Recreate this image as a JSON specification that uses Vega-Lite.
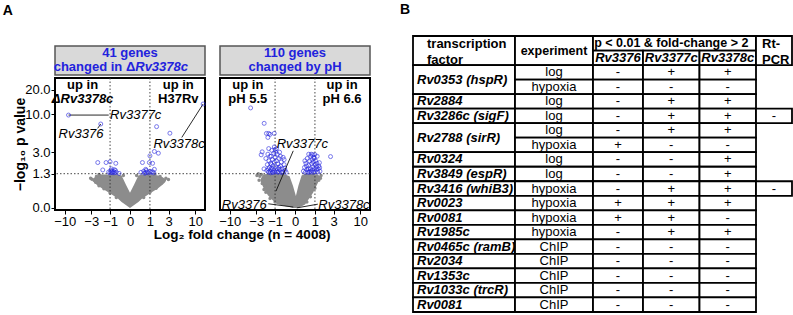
{
  "$schema": "https://vega.github.io/schema/vega-lite/v6.json",
  "padding": {"left": 2, "top": 3, "right": 0, "bottom": 0},
  "background": "white",
  "config": {
    "font": "Liberation Sans",
    "view": {"stroke": null},
    "title": {"color": "#000", "font": "Liberation Sans"},
    "axis": {"labelFont": "Liberation Sans", "titleFont": "Liberation Sans", "labelOverlap": false, "labelFlush": false, "tickCount": 10}
  },
  "datasets": {
    "blue": [
      {"p":"L","x":-8.5,"y":9.7},{"p":"L","x":-1.81,"y":7.43},{"p":"L","x":1.55,"y":6.86},{"p":"L","x":3.18,"y":5.6},
      {"p":"L","x":13.9,"y":13.4},{"p":"L","x":1.0,"y":2.64},{"p":"L","x":1.35,"y":3.08},{"p":"L","x":1.72,"y":2.9},
      {"p":"L","x":-2.14,"y":2.06},{"p":"L","x":-1.31,"y":2.06},{"p":"L","x":-1.0,"y":2.12},{"p":"L","x":-0.63,"y":2.0},
      {"p":"L","x":-1.61,"y":1.53},{"p":"L","x":0.53,"y":2.06},{"p":"L","x":0.96,"y":2.06},{"p":"L","x":1.2,"y":2.0},
      {"p":"L","x":0.72,"y":1.57},{"p":"L","x":1.35,"y":1.57},
      {"p":"L","x":-1.1,"y":1.4},{"p":"L","x":-1.0,"y":1.35},{"p":"L","x":-0.95,"y":1.5},{"p":"L","x":-0.9,"y":1.38},
      {"p":"L","x":-0.85,"y":1.45},{"p":"L","x":-0.8,"y":1.35},{"p":"L","x":-0.75,"y":1.42},{"p":"L","x":-0.7,"y":1.36},
      {"p":"L","x":-0.65,"y":1.5},{"p":"L","x":-0.6,"y":1.38},{"p":"L","x":-0.45,"y":1.32},{"p":"L","x":-0.9,"y":1.6},
      {"p":"L","x":-0.72,"y":1.55},
      {"p":"L","x":0.45,"y":1.38},{"p":"L","x":0.6,"y":1.45},{"p":"L","x":0.7,"y":1.35},{"p":"L","x":0.75,"y":1.5},
      {"p":"L","x":0.8,"y":1.4},{"p":"L","x":0.9,"y":1.35},{"p":"L","x":1.0,"y":1.45},{"p":"L","x":1.1,"y":1.38},
      {"p":"L","x":1.2,"y":1.42},{"p":"L","x":0.65,"y":1.33},{"p":"L","x":1.3,"y":1.35},
      {"p":"R","x":-3.95,"y":11.96},{"p":"R","x":-1.98,"y":7.58},{"p":"R","x":-1.74,"y":5.56},{"p":"R","x":-1.52,"y":5.56},
      {"p":"R","x":-1.4,"y":5.4},{"p":"R","x":-1.06,"y":5.56},{"p":"R","x":-1.6,"y":4.9},{"p":"R","x":-2.21,"y":3.04},
      {"p":"R","x":-2.33,"y":2.74},{"p":"R","x":-1.52,"y":3.4},{"p":"R","x":2.55,"y":2.57},{"p":"R","x":0.75,"y":2.8},
      {"p":"R","x":1.0,"y":2.75},{"p":"R","x":1.37,"y":1.68},
      {"p":"R","x":-1.7,"y":1.5},{"p":"R","x":-1.65,"y":1.9},{"p":"R","x":-1.55,"y":1.4},{"p":"R","x":-1.5,"y":2.2},
      {"p":"R","x":-1.45,"y":1.7},{"p":"R","x":-1.4,"y":1.45},{"p":"R","x":-1.35,"y":2.0},{"p":"R","x":-1.3,"y":2.6},
      {"p":"R","x":-1.3,"y":1.55},{"p":"R","x":-1.25,"y":3.2},{"p":"R","x":-1.2,"y":1.4},{"p":"R","x":-1.2,"y":2.3},
      {"p":"R","x":-1.15,"y":1.8},{"p":"R","x":-1.1,"y":2.9},{"p":"R","x":-1.1,"y":1.5},{"p":"R","x":-1.05,"y":2.1},
      {"p":"R","x":-1.0,"y":3.3},{"p":"R","x":-1.0,"y":1.4},{"p":"R","x":-1.0,"y":2.5},{"p":"R","x":-0.95,"y":1.75},
      {"p":"R","x":-0.9,"y":2.2},{"p":"R","x":-0.9,"y":1.45},{"p":"R","x":-0.85,"y":2.8},{"p":"R","x":-0.85,"y":1.6},
      {"p":"R","x":-0.8,"y":1.95},{"p":"R","x":-0.8,"y":1.38},{"p":"R","x":-0.75,"y":2.4},{"p":"R","x":-0.7,"y":1.55},
      {"p":"R","x":-0.7,"y":3.0},{"p":"R","x":-0.65,"y":1.8},{"p":"R","x":-0.6,"y":1.4},{"p":"R","x":-0.6,"y":2.1},
      {"p":"R","x":-0.55,"y":1.6},{"p":"R","x":-0.5,"y":2.5},{"p":"R","x":-0.5,"y":1.42},{"p":"R","x":-0.45,"y":1.9},
      {"p":"R","x":-0.4,"y":1.5},{"p":"R","x":-0.35,"y":1.38},{"p":"R","x":-1.15,"y":1.38},{"p":"R","x":-1.4,"y":2.6},
      {"p":"R","x":-0.95,"y":3.0},{"p":"R","x":-1.25,"y":1.65},{"p":"R","x":-0.75,"y":1.7},{"p":"R","x":-0.65,"y":2.6},
      {"p":"R","x":-1.55,"y":1.6},{"p":"R","x":-1.05,"y":3.6},{"p":"R","x":-0.9,"y":3.4},{"p":"R","x":-1.35,"y":1.35},
      {"p":"R","x":-0.55,"y":1.35},{"p":"R","x":-0.45,"y":2.3},{"p":"R","x":-1.8,"y":2.4},{"p":"R","x":-2.0,"y":1.6},
      {"p":"R","x":-0.42,"y":1.65},{"p":"R","x":-1.6,"y":2.8},{"p":"R","x":-0.78,"y":1.42},{"p":"R","x":-1.28,"y":1.9},
      {"p":"R","x":0.33,"y":1.45},{"p":"R","x":0.38,"y":1.7},{"p":"R","x":0.42,"y":1.38},{"p":"R","x":0.45,"y":2.0},
      {"p":"R","x":0.5,"y":1.55},{"p":"R","x":0.52,"y":2.4},{"p":"R","x":0.55,"y":1.4},{"p":"R","x":0.6,"y":1.85},
      {"p":"R","x":0.62,"y":1.38},{"p":"R","x":0.65,"y":2.2},{"p":"R","x":0.7,"y":1.6},{"p":"R","x":0.72,"y":2.6},
      {"p":"R","x":0.75,"y":1.4},{"p":"R","x":0.78,"y":1.95},{"p":"R","x":0.8,"y":2.3},{"p":"R","x":0.82,"y":1.5},
      {"p":"R","x":0.85,"y":1.75},{"p":"R","x":0.88,"y":2.1},{"p":"R","x":0.9,"y":1.38},{"p":"R","x":0.92,"y":2.5},
      {"p":"R","x":0.95,"y":1.6},{"p":"R","x":1.0,"y":1.9},{"p":"R","x":1.0,"y":1.42},{"p":"R","x":1.05,"y":2.2},
      {"p":"R","x":1.1,"y":1.55},{"p":"R","x":1.12,"y":1.75},{"p":"R","x":1.15,"y":2.0},{"p":"R","x":1.2,"y":1.4},
      {"p":"R","x":1.25,"y":1.6},{"p":"R","x":1.3,"y":1.8},{"p":"R","x":0.6,"y":2.8},{"p":"R","x":0.68,"y":1.45},
      {"p":"R","x":0.85,"y":2.75},{"p":"R","x":1.4,"y":1.45},{"p":"R","x":0.48,"y":1.8},{"p":"R","x":0.4,"y":2.2},
      {"p":"R","x":1.17,"y":2.6},{"p":"R","x":0.58,"y":1.6},{"p":"R","x":0.95,"y":2.4},{"p":"R","x":1.35,"y":2.05}
    ],
    "gray": [
      {"p":"L","x":-2.9,"y":1.0},{"p":"L","x":-2.6,"y":0.95},{"p":"L","x":-2.4,"y":0.85},{"p":"L","x":-2.0,"y":0.7},
      {"p":"L","x":-1.5,"y":0.58},{"p":"L","x":-1.0,"y":0.42},{"p":"L","x":-0.6,"y":0.28},{"p":"L","x":-2.3,"y":1.15},
      {"p":"L","x":-1.9,"y":1.2},{"p":"L","x":-0.25,"y":1.2},{"p":"L","x":0.25,"y":1.2},{"p":"L","x":2.96,"y":0.99},
      {"p":"L","x":2.4,"y":0.95},{"p":"L","x":2.0,"y":0.8},{"p":"L","x":1.5,"y":0.6},{"p":"L","x":1.0,"y":0.45},
      {"p":"L","x":0.6,"y":0.28},{"p":"L","x":2.6,"y":1.05},{"p":"L","x":1.9,"y":1.15},{"p":"L","x":-3.1,"y":1.05},
      {"p":"L","x":-2.0,"y":1.25},{"p":"L","x":1.4,"y":1.27},
      {"p":"R","x":-2.6,"y":0.95},{"p":"R","x":-2.5,"y":1.15},{"p":"R","x":-2.3,"y":1.25},{"p":"R","x":-2.2,"y":0.8},
      {"p":"R","x":-2.0,"y":0.55},{"p":"R","x":-1.8,"y":0.45},{"p":"R","x":-1.4,"y":0.25},{"p":"R","x":-1.0,"y":0.15},
      {"p":"R","x":-2.1,"y":1.0},{"p":"R","x":-1.9,"y":0.7},{"p":"R","x":1.5,"y":1.2},{"p":"R","x":1.3,"y":0.95},
      {"p":"R","x":1.0,"y":0.6},{"p":"R","x":0.7,"y":0.3},{"p":"R","x":0.5,"y":0.15},{"p":"R","x":1.45,"y":1.05},
      {"p":"R","x":-2.9,"y":1.2},{"p":"R","x":-2.7,"y":1.3}
    ],
    "cloud": [
      {"p":"L","x":-2.7,"y":1.05,"y2":0.88},{"p":"L","x":-2.2,"y":1.2,"y2":0.72},{"p":"L","x":-1.7,"y":1.25,"y2":0.6},
      {"p":"L","x":-1.2,"y":1.25,"y2":0.47},{"p":"L","x":-0.88,"y":1.28,"y2":0.37},{"p":"L","x":-0.5,"y":1.25,"y2":0.24},
      {"p":"L","x":-0.33,"y":1.2,"y2":0.15},{"p":"L","x":-0.15,"y":0.75,"y2":0.07},{"p":"L","x":0,"y":0.43,"y2":0},
      {"p":"L","x":0.15,"y":0.75,"y2":0.07},{"p":"L","x":0.33,"y":1.2,"y2":0.15},{"p":"L","x":0.5,"y":1.25,"y2":0.24},
      {"p":"L","x":0.88,"y":1.28,"y2":0.37},{"p":"L","x":1.2,"y":1.25,"y2":0.47},{"p":"L","x":1.7,"y":1.2,"y2":0.6},
      {"p":"L","x":2.2,"y":1.1,"y2":0.75},{"p":"L","x":2.5,"y":1.0,"y2":0.85},
      {"p":"R","x":-2.4,"y":1.0,"y2":0.9},{"p":"R","x":-2.1,"y":1.25,"y2":0.65},{"p":"R","x":-1.6,"y":1.3,"y2":0.35},
      {"p":"R","x":-1.2,"y":1.3,"y2":0.2},{"p":"R","x":-0.9,"y":1.3,"y2":0.1},{"p":"R","x":-0.5,"y":1.3,"y2":0.05},
      {"p":"R","x":-0.2,"y":1.15,"y2":0.02},{"p":"R","x":-0.07,"y":0.7,"y2":0},{"p":"R","x":0.03,"y":0.32,"y2":0},
      {"p":"R","x":0.12,"y":0.7,"y2":0.01},{"p":"R","x":0.25,"y":1.2,"y2":0.04},{"p":"R","x":0.41,"y":1.3,"y2":0.08},
      {"p":"R","x":0.87,"y":1.3,"y2":0.43},{"p":"R","x":1.2,"y":1.25,"y2":0.8},{"p":"R","x":1.41,"y":1.15,"y2":1.05}
    ],
    "lead": [
      {"p":"L","g":"Rv3377c","x":-8.5,"y":9.7,"x2":-1.1,"y2":9.7},
      {"p":"L","g":"Rv3376","x":-1.81,"y":7.43,"x2":-2.15,"y2":6.51},
      {"p":"L","g":"Rv3378c","x":13.9,"y":13.4,"x2":5.56,"y2":4.9},
      {"p":"R","g":"Rv3377c","x":-0.935,"y":0.49,"x2":-0.06,"y2":3.15},
      {"p":"R","g":"Rv3376","x":-0.06,"y":0.02,"x2":-1.56,"y2":0.1},
      {"p":"R","g":"Rv3378c","x":0.06,"y":0.0,"x2":1.22,"y2":0.09}
    ],
    "lab": [
      {"p":"L","g":"Rv3377c","x":-1.0,"y":9.7},
      {"p":"L","g":"Rv3376","x":-1.55,"y":5.43},
      {"p":"L","g":"Rv3378c","x":1.27,"y":3.94},
      {"p":"R","g":"Rv3377c","x":-0.89,"y":3.94},
      {"p":"R","g":"Rv3376","x":-1.72,"y":0.08},
      {"p":"R","g":"Rv3378c","x":1.26,"y":0.08}
    ],
    "note": [
      {"p":"L","t":"up in","x":-4.55,"y":23.2,"k":"b"},
      {"p":"L","t":"ΔRv3378c","x":-4.55,"y":15.6,"k":"bi"},
      {"p":"L","t":"up in","x":4.74,"y":23.2,"k":"b"},
      {"p":"L","t":"H37Rv","x":4.74,"y":15.6,"k":"b"},
      {"p":"R","t":"up in","x":-4.5,"y":23.2,"k":"b"},
      {"p":"R","t":"pH 5.5","x":-4.5,"y":15.6,"k":"b"},
      {"p":"R","t":"up in","x":4.48,"y":23.2,"k":"b"},
      {"p":"R","t":"pH 6.6","x":4.48,"y":15.6,"k":"b"}
    ],
    "thr": [{"x":-1},{"x":1}],
    "cells": [
      {"c":0,"c2":1,"r":0,"r2":2,"t":"transcription\nfactor","k":"h1"},
      {"c":1,"c2":2,"r":0,"r2":2,"t":"experiment","k":"h"},
      {"c":2,"c2":5,"r":0,"r2":1,"t":"p < 0.01 & fold-change > 2","k":"h"},
      {"c":2,"c2":3,"r":1,"r2":2,"t":"Rv3376","k":"g"},
      {"c":3,"c2":4,"r":1,"r2":2,"t":"Rv3377c","k":"g"},
      {"c":4,"c2":5,"r":1,"r2":2,"t":"Rv3378c","k":"g"},
      {"c":5,"c2":6,"r":0,"r2":2,"t":"Rt-\nPCR","k":"h2"},

      {"c":0,"c2":1,"r":2,"r2":4,"t":"Rv0353 (hspR)","k":"tf"},
      {"c":1,"c2":2,"r":2,"r2":3,"t":"log","k":"v"},
      {"c":2,"c2":3,"r":2,"r2":3,"t":"-","k":"v"},{"c":3,"c2":4,"r":2,"r2":3,"t":"+","k":"v"},{"c":4,"c2":5,"r":2,"r2":3,"t":"+","k":"v"},
      {"c":1,"c2":2,"r":3,"r2":4,"t":"hypoxia","k":"v"},
      {"c":2,"c2":3,"r":3,"r2":4,"t":"-","k":"v"},{"c":3,"c2":4,"r":3,"r2":4,"t":"-","k":"v"},{"c":4,"c2":5,"r":3,"r2":4,"t":"-","k":"v"},

      {"c":0,"c2":1,"r":4,"r2":5,"t":"Rv2884","k":"tf"},
      {"c":1,"c2":2,"r":4,"r2":5,"t":"log","k":"v"},
      {"c":2,"c2":3,"r":4,"r2":5,"t":"-","k":"v"},{"c":3,"c2":4,"r":4,"r2":5,"t":"+","k":"v"},{"c":4,"c2":5,"r":4,"r2":5,"t":"+","k":"v"},

      {"c":0,"c2":1,"r":5,"r2":6,"t":"Rv3286c (sigF)","k":"tf"},
      {"c":1,"c2":2,"r":5,"r2":6,"t":"log","k":"v"},
      {"c":2,"c2":3,"r":5,"r2":6,"t":"-","k":"v"},{"c":3,"c2":4,"r":5,"r2":6,"t":"+","k":"v"},{"c":4,"c2":5,"r":5,"r2":6,"t":"+","k":"v"},
      {"c":5,"c2":6,"r":5,"r2":6,"t":"-","k":"v"},

      {"c":0,"c2":1,"r":6,"r2":8,"t":"Rv2788 (sirR)","k":"tf"},
      {"c":1,"c2":2,"r":6,"r2":7,"t":"log","k":"v"},
      {"c":2,"c2":3,"r":6,"r2":7,"t":"-","k":"v"},{"c":3,"c2":4,"r":6,"r2":7,"t":"+","k":"v"},{"c":4,"c2":5,"r":6,"r2":7,"t":"+","k":"v"},
      {"c":1,"c2":2,"r":7,"r2":8,"t":"hypoxia","k":"v"},
      {"c":2,"c2":3,"r":7,"r2":8,"t":"+","k":"v"},{"c":3,"c2":4,"r":7,"r2":8,"t":"-","k":"v"},{"c":4,"c2":5,"r":7,"r2":8,"t":"-","k":"v"},

      {"c":0,"c2":1,"r":8,"r2":9,"t":"Rv0324","k":"tf"},
      {"c":1,"c2":2,"r":8,"r2":9,"t":"log","k":"v"},
      {"c":2,"c2":3,"r":8,"r2":9,"t":"-","k":"v"},{"c":3,"c2":4,"r":8,"r2":9,"t":"-","k":"v"},{"c":4,"c2":5,"r":8,"r2":9,"t":"+","k":"v"},

      {"c":0,"c2":1,"r":9,"r2":10,"t":"Rv3849 (espR)","k":"tf"},
      {"c":1,"c2":2,"r":9,"r2":10,"t":"log","k":"v"},
      {"c":2,"c2":3,"r":9,"r2":10,"t":"-","k":"v"},{"c":3,"c2":4,"r":9,"r2":10,"t":"-","k":"v"},{"c":4,"c2":5,"r":9,"r2":10,"t":"+","k":"v"},

      {"c":0,"c2":1,"r":10,"r2":11,"t":"Rv3416 (whiB3)","k":"tf"},
      {"c":1,"c2":2,"r":10,"r2":11,"t":"hypoxia","k":"v"},
      {"c":2,"c2":3,"r":10,"r2":11,"t":"-","k":"v"},{"c":3,"c2":4,"r":10,"r2":11,"t":"+","k":"v"},{"c":4,"c2":5,"r":10,"r2":11,"t":"+","k":"v"},
      {"c":5,"c2":6,"r":10,"r2":11,"t":"-","k":"v"},

      {"c":0,"c2":1,"r":11,"r2":12,"t":"Rv0023","k":"tf"},
      {"c":1,"c2":2,"r":11,"r2":12,"t":"hypoxia","k":"v"},
      {"c":2,"c2":3,"r":11,"r2":12,"t":"+","k":"v"},{"c":3,"c2":4,"r":11,"r2":12,"t":"+","k":"v"},{"c":4,"c2":5,"r":11,"r2":12,"t":"+","k":"v"},

      {"c":0,"c2":1,"r":12,"r2":13,"t":"Rv0081","k":"tf"},
      {"c":1,"c2":2,"r":12,"r2":13,"t":"hypoxia","k":"v"},
      {"c":2,"c2":3,"r":12,"r2":13,"t":"+","k":"v"},{"c":3,"c2":4,"r":12,"r2":13,"t":"+","k":"v"},{"c":4,"c2":5,"r":12,"r2":13,"t":"-","k":"v"},

      {"c":0,"c2":1,"r":13,"r2":14,"t":"Rv1985c","k":"tf"},
      {"c":1,"c2":2,"r":13,"r2":14,"t":"hypoxia","k":"v"},
      {"c":2,"c2":3,"r":13,"r2":14,"t":"-","k":"v"},{"c":3,"c2":4,"r":13,"r2":14,"t":"+","k":"v"},{"c":4,"c2":5,"r":13,"r2":14,"t":"+","k":"v"},

      {"c":0,"c2":1,"r":14,"r2":15,"t":"Rv0465c (ramB)","k":"tf"},
      {"c":1,"c2":2,"r":14,"r2":15,"t":"ChIP","k":"v"},
      {"c":2,"c2":3,"r":14,"r2":15,"t":"-","k":"v"},{"c":3,"c2":4,"r":14,"r2":15,"t":"-","k":"v"},{"c":4,"c2":5,"r":14,"r2":15,"t":"-","k":"v"},

      {"c":0,"c2":1,"r":15,"r2":16,"t":"Rv2034","k":"tf"},
      {"c":1,"c2":2,"r":15,"r2":16,"t":"ChIP","k":"v"},
      {"c":2,"c2":3,"r":15,"r2":16,"t":"-","k":"v"},{"c":3,"c2":4,"r":15,"r2":16,"t":"-","k":"v"},{"c":4,"c2":5,"r":15,"r2":16,"t":"-","k":"v"},

      {"c":0,"c2":1,"r":16,"r2":17,"t":"Rv1353c","k":"tf"},
      {"c":1,"c2":2,"r":16,"r2":17,"t":"ChIP","k":"v"},
      {"c":2,"c2":3,"r":16,"r2":17,"t":"-","k":"v"},{"c":3,"c2":4,"r":16,"r2":17,"t":"-","k":"v"},{"c":4,"c2":5,"r":16,"r2":17,"t":"-","k":"v"},

      {"c":0,"c2":1,"r":17,"r2":18,"t":"Rv1033c (trcR)","k":"tf"},
      {"c":1,"c2":2,"r":17,"r2":18,"t":"ChIP","k":"v"},
      {"c":2,"c2":3,"r":17,"r2":18,"t":"-","k":"v"},{"c":3,"c2":4,"r":17,"r2":18,"t":"-","k":"v"},{"c":4,"c2":5,"r":17,"r2":18,"t":"-","k":"v"},

      {"c":0,"c2":1,"r":18,"r2":19,"t":"Rv0081","k":"tf"},
      {"c":1,"c2":2,"r":18,"r2":19,"t":"ChIP","k":"v"},
      {"c":2,"c2":3,"r":18,"r2":19,"t":"-","k":"v"},{"c":3,"c2":4,"r":18,"r2":19,"t":"-","k":"v"},{"c":4,"c2":5,"r":18,"r2":19,"t":"-","k":"v"}
    ]
  },
  "hconcat": [
    {
      "title": {"text": "A", "anchor": "start", "fontSize": 14, "fontWeight": "bold", "offset": 18, "dx": -10},
      "spacing": 8,
      "vconcat": [
        {"width": 10, "height": 1, "data": {"values": [{}]}, "mark": {"type": "rule", "opacity": 0}, "encoding": {}},
        {
          "title": {"text": "Log₂ fold change (n = 4008)", "orient": "bottom", "anchor": "middle", "fontSize": 13.5, "fontWeight": "bold", "offset": -1, "dx": 50},
          "spacing": 9,
          "hconcat": [
            {
              "spacing": 0,
              "vconcat": [
                {
                  "width": 150, "height": 29,
                  "view": {"fill": "#d9d9d9", "stroke": "#555555", "strokeWidth": 1.5},
                  "data": {"values": [{}]},
                  "layer": [
                    {"mark": {"type": "text", "fontWeight": "bold", "fontSize": 13, "color": "#2222dd"},
                     "encoding": {"x": {"datum": 0.5, "type": "quantitative", "scale": {"domain": [0, 1]}, "axis": null},
                                  "y": {"datum": 0.75, "type": "quantitative", "scale": {"domain": [0, 1]}, "axis": null},
                                  "text": {"value": "41 genes"}}},
                    {"mark": {"type": "text", "fontWeight": "bold", "fontSize": 13, "color": "#2222dd", "align": "right"},
                     "encoding": {"x": {"datum": 0.535, "type": "quantitative", "scale": {"domain": [0, 1]}, "axis": null},
                                  "y": {"datum": 0.29, "type": "quantitative", "scale": {"domain": [0, 1]}, "axis": null},
                                  "text": {"value": "changed in Δ"}}},
                    {"mark": {"type": "text", "fontWeight": "bold", "fontStyle": "italic", "fontSize": 13, "color": "#2222dd", "align": "left"},
                     "encoding": {"x": {"datum": 0.535, "type": "quantitative", "scale": {"domain": [0, 1]}, "axis": null},
                                  "y": {"datum": 0.29, "type": "quantitative", "scale": {"domain": [0, 1]}, "axis": null},
                                  "text": {"value": "Rv3378c"}}}
                  ]
                },
                {
                  "width": 150, "height": 132,
                  "view": {"stroke": "black", "strokeWidth": 2},
                  "layer": [
                    {"data": {"name": "cloud"}, "transform": [{"filter": "datum.p == 'L'"}],
                     "mark": {"type": "area", "color": "#8c8c8c"},
                     "encoding": {
                       "x": {"field": "x", "type": "quantitative", "scale": {"type": "symlog", "constant": 0.85, "domain": [-15, 15], "nice": false, "zero": false},
                             "axis": {"values": [-10, -3, -1, 0, 1, 3, 10], "tickCount": 10, "format": "d", "title": null, "domain": false, "grid": false, "tickSize": 4, "tickColor": "#000", "labelColor": "#000", "labelFontSize": 13, "labelPadding": 1, "labelFlush": false, "labelOverlap": false}},
                       "y": {"field": "y", "type": "quantitative", "scale": {"type": "symlog", "constant": 0.85, "domain": [-0.05, 28], "nice": false, "zero": false},
                             "axis": {"values": [0, 1.3, 3, 10, 20], "tickCount": 10, "format": ".1f", "title": "−log₁₀ p value", "titleFontSize": 14, "titleFontWeight": "bold", "titleColor": "#000", "titlePadding": -3, "domain": false, "grid": false, "tickSize": 4, "tickColor": "#000", "labelColor": "#000", "labelFontSize": 13, "labelPadding": 1, "labelFlush": false, "labelOverlap": false}},
                       "y2": {"field": "y2"}
                     }},
                    {"data": {"name": "gray"}, "transform": [{"filter": "datum.p == 'L'"}],
                     "mark": {"type": "circle", "color": "#8c8c8c", "size": 12, "opacity": 1},
                     "encoding": {
                       "x": {"field": "x", "type": "quantitative", "scale": {"type": "symlog", "constant": 0.85, "domain": [-15, 15], "nice": false, "zero": false}},
                       "y": {"field": "y", "type": "quantitative", "scale": {"type": "symlog", "constant": 0.85, "domain": [-0.05, 28], "nice": false, "zero": false}}
                     }},
                    {"data": {"values": [{}]},
                     "mark": {"type": "rule", "strokeDash": [1.5, 2], "color": "#333", "strokeWidth": 0.9},
                     "encoding": {"y": {"datum": 1.3, "type": "quantitative", "scale": {"type": "symlog", "constant": 0.85, "domain": [-0.05, 28], "nice": false, "zero": false}}}},
                    {"data": {"name": "thr"},
                     "mark": {"type": "rule", "strokeDash": [1.5, 2], "color": "#333", "strokeWidth": 0.9},
                     "encoding": {"x": {"field": "x", "type": "quantitative", "scale": {"type": "symlog", "constant": 0.85, "domain": [-15, 15], "nice": false, "zero": false}}}},
                    {"data": {"name": "lead"}, "transform": [{"filter": "datum.p == 'L'"}],
                     "mark": {"type": "rule", "color": "#111", "strokeWidth": 0.9},
                     "encoding": {
                       "x": {"field": "x", "type": "quantitative", "scale": {"type": "symlog", "constant": 0.85, "domain": [-15, 15], "nice": false, "zero": false}},
                       "y": {"field": "y", "type": "quantitative", "scale": {"type": "symlog", "constant": 0.85, "domain": [-0.05, 28], "nice": false, "zero": false}},
                       "x2": {"field": "x2"}, "y2": {"field": "y2"}
                     }},
                    {"data": {"name": "blue"}, "transform": [{"filter": "datum.p == 'L'"}],
                     "mark": {"type": "point", "shape": "circle", "filled": false, "color": "#2a2ae0", "size": 16, "strokeWidth": 0.9},
                     "encoding": {
                       "x": {"field": "x", "type": "quantitative", "scale": {"type": "symlog", "constant": 0.85, "domain": [-15, 15], "nice": false, "zero": false}},
                       "y": {"field": "y", "type": "quantitative", "scale": {"type": "symlog", "constant": 0.85, "domain": [-0.05, 28], "nice": false, "zero": false}}
                     }},
                    {"data": {"name": "lab"}, "transform": [{"filter": "datum.p == 'L' && datum.g != 'Rv3376'"}],
                     "mark": {"type": "text", "align": "left", "baseline": "middle", "fontStyle": "italic", "fontSize": 13, "color": "#000"},
                     "encoding": {
                       "x": {"field": "x", "type": "quantitative", "scale": {"type": "symlog", "constant": 0.85, "domain": [-15, 15], "nice": false, "zero": false}},
                       "y": {"field": "y", "type": "quantitative", "scale": {"type": "symlog", "constant": 0.85, "domain": [-0.05, 28], "nice": false, "zero": false}},
                       "text": {"field": "g"}
                     }},
                    {"data": {"name": "lab"}, "transform": [{"filter": "datum.p == 'L' && datum.g == 'Rv3376'"}],
                     "mark": {"type": "text", "align": "right", "baseline": "middle", "fontStyle": "italic", "fontSize": 13, "color": "#000"},
                     "encoding": {
                       "x": {"field": "x", "type": "quantitative", "scale": {"type": "symlog", "constant": 0.85, "domain": [-15, 15], "nice": false, "zero": false}},
                       "y": {"field": "y", "type": "quantitative", "scale": {"type": "symlog", "constant": 0.85, "domain": [-0.05, 28], "nice": false, "zero": false}},
                       "text": {"field": "g"}
                     }},
                    {"data": {"name": "note"}, "transform": [{"filter": "datum.p == 'L' && datum.k == 'b'"}],
                     "mark": {"type": "text", "align": "center", "baseline": "middle", "fontWeight": "bold", "fontSize": 13, "color": "#000"},
                     "encoding": {
                       "x": {"field": "x", "type": "quantitative", "scale": {"type": "symlog", "constant": 0.85, "domain": [-15, 15], "nice": false, "zero": false}},
                       "y": {"field": "y", "type": "quantitative", "scale": {"type": "symlog", "constant": 0.85, "domain": [-0.05, 28], "nice": false, "zero": false}},
                       "text": {"field": "t"}
                     }},
                    {"data": {"name": "note"}, "transform": [{"filter": "datum.p == 'L' && datum.k == 'bi'"}],
                     "mark": {"type": "text", "align": "center", "baseline": "middle", "fontWeight": "bold", "fontStyle": "italic", "fontSize": 13, "color": "#000"},
                     "encoding": {
                       "x": {"field": "x", "type": "quantitative", "scale": {"type": "symlog", "constant": 0.85, "domain": [-15, 15], "nice": false, "zero": false}},
                       "y": {"field": "y", "type": "quantitative", "scale": {"type": "symlog", "constant": 0.85, "domain": [-0.05, 28], "nice": false, "zero": false}},
                       "text": {"field": "t"}
                     }}
                  ]
                }
              ]
            },
            {
              "spacing": 0,
              "vconcat": [
                {
                  "width": 150, "height": 29,
                  "view": {"fill": "#d9d9d9", "stroke": "#555555", "strokeWidth": 1.5},
                  "data": {"values": [{}]},
                  "layer": [
                    {"mark": {"type": "text", "fontWeight": "bold", "fontSize": 13, "color": "#2222dd"},
                     "encoding": {"x": {"datum": 0.5, "type": "quantitative", "scale": {"domain": [0, 1]}, "axis": null},
                                  "y": {"datum": 0.75, "type": "quantitative", "scale": {"domain": [0, 1]}, "axis": null},
                                  "text": {"value": "110 genes"}}},
                    {"mark": {"type": "text", "fontWeight": "bold", "fontSize": 13, "color": "#2222dd"},
                     "encoding": {"x": {"datum": 0.5, "type": "quantitative", "scale": {"domain": [0, 1]}, "axis": null},
                                  "y": {"datum": 0.29, "type": "quantitative", "scale": {"domain": [0, 1]}, "axis": null},
                                  "text": {"value": "changed by pH"}}}
                  ]
                },
                {
                  "width": 150, "height": 132,
                  "view": {"stroke": "black", "strokeWidth": 2},
                  "layer": [
                    {"data": {"name": "cloud"}, "transform": [{"filter": "datum.p == 'R'"}],
                     "mark": {"type": "area", "color": "#8c8c8c"},
                     "encoding": {
                       "x": {"field": "x", "type": "quantitative", "scale": {"type": "symlog", "constant": 0.85, "domain": [-15, 15], "nice": false, "zero": false},
                             "axis": {"values": [-10, -3, -1, 0, 1, 3, 10], "tickCount": 10, "format": "d", "title": null, "domain": false, "grid": false, "tickSize": 4, "tickColor": "#000", "labelColor": "#000", "labelFontSize": 13, "labelPadding": 1, "labelFlush": false, "labelOverlap": false}},
                       "y": {"field": "y", "type": "quantitative", "scale": {"type": "symlog", "constant": 0.85, "domain": [-0.05, 28], "nice": false, "zero": false}, "axis": null},
                       "y2": {"field": "y2"}
                     }},
                    {"data": {"name": "gray"}, "transform": [{"filter": "datum.p == 'R'"}],
                     "mark": {"type": "circle", "color": "#8c8c8c", "size": 12, "opacity": 1},
                     "encoding": {
                       "x": {"field": "x", "type": "quantitative", "scale": {"type": "symlog", "constant": 0.85, "domain": [-15, 15], "nice": false, "zero": false}},
                       "y": {"field": "y", "type": "quantitative", "scale": {"type": "symlog", "constant": 0.85, "domain": [-0.05, 28], "nice": false, "zero": false}, "axis": null}
                     }},
                    {"data": {"values": [{}]},
                     "mark": {"type": "rule", "strokeDash": [1.5, 2], "color": "#333", "strokeWidth": 0.9},
                     "encoding": {"y": {"datum": 1.3, "type": "quantitative", "scale": {"type": "symlog", "constant": 0.85, "domain": [-0.05, 28], "nice": false, "zero": false}, "axis": null}}},
                    {"data": {"name": "thr"},
                     "mark": {"type": "rule", "strokeDash": [1.5, 2], "color": "#333", "strokeWidth": 0.9},
                     "encoding": {"x": {"field": "x", "type": "quantitative", "scale": {"type": "symlog", "constant": 0.85, "domain": [-15, 15], "nice": false, "zero": false}}}},
                    {"data": {"name": "blue"}, "transform": [{"filter": "datum.p == 'R'"}],
                     "mark": {"type": "point", "shape": "circle", "filled": false, "color": "#2a2ae0", "size": 16, "strokeWidth": 0.9},
                     "encoding": {
                       "x": {"field": "x", "type": "quantitative", "scale": {"type": "symlog", "constant": 0.85, "domain": [-15, 15], "nice": false, "zero": false}},
                       "y": {"field": "y", "type": "quantitative", "scale": {"type": "symlog", "constant": 0.85, "domain": [-0.05, 28], "nice": false, "zero": false}, "axis": null}
                     }},
                    {"data": {"name": "lead"}, "transform": [{"filter": "datum.p == 'R'"}],
                     "mark": {"type": "rule", "color": "#111", "strokeWidth": 0.9},
                     "encoding": {
                       "x": {"field": "x", "type": "quantitative", "scale": {"type": "symlog", "constant": 0.85, "domain": [-15, 15], "nice": false, "zero": false}},
                       "y": {"field": "y", "type": "quantitative", "scale": {"type": "symlog", "constant": 0.85, "domain": [-0.05, 28], "nice": false, "zero": false}, "axis": null},
                       "x2": {"field": "x2"}, "y2": {"field": "y2"}
                     }},
                    {"data": {"name": "lab"}, "transform": [{"filter": "datum.p == 'R' && datum.g != 'Rv3376'"}],
                     "mark": {"type": "text", "align": "left", "baseline": "middle", "fontStyle": "italic", "fontSize": 13, "color": "#000"},
                     "encoding": {
                       "x": {"field": "x", "type": "quantitative", "scale": {"type": "symlog", "constant": 0.85, "domain": [-15, 15], "nice": false, "zero": false}},
                       "y": {"field": "y", "type": "quantitative", "scale": {"type": "symlog", "constant": 0.85, "domain": [-0.05, 28], "nice": false, "zero": false}, "axis": null},
                       "text": {"field": "g"}
                     }},
                    {"data": {"name": "lab"}, "transform": [{"filter": "datum.p == 'R' && datum.g == 'Rv3376'"}],
                     "mark": {"type": "text", "align": "right", "baseline": "middle", "fontStyle": "italic", "fontSize": 13, "color": "#000"},
                     "encoding": {
                       "x": {"field": "x", "type": "quantitative", "scale": {"type": "symlog", "constant": 0.85, "domain": [-15, 15], "nice": false, "zero": false}},
                       "y": {"field": "y", "type": "quantitative", "scale": {"type": "symlog", "constant": 0.85, "domain": [-0.05, 28], "nice": false, "zero": false}, "axis": null},
                       "text": {"field": "g"}
                     }},
                    {"data": {"name": "note"}, "transform": [{"filter": "datum.p == 'R'"}],
                     "mark": {"type": "text", "align": "center", "baseline": "middle", "fontWeight": "bold", "fontSize": 13, "color": "#000"},
                     "encoding": {
                       "x": {"field": "x", "type": "quantitative", "scale": {"type": "symlog", "constant": 0.85, "domain": [-15, 15], "nice": false, "zero": false}},
                       "y": {"field": "y", "type": "quantitative", "scale": {"type": "symlog", "constant": 0.85, "domain": [-0.05, 28], "nice": false, "zero": false}, "axis": null},
                       "text": {"field": "t"}
                     }}
                  ]
                }
              ]
            }
          ]
        }
      ]
    },
    {
      "title": {"text": "B", "anchor": "start", "fontSize": 14, "fontWeight": "bold", "offset": 18, "dx": -12},
      "width": 379, "height": 276,
      "view": {"stroke": null},
      "data": {"name": "cells"},
      "transform": [
        {"calculate": "(datum.c + datum.c2) / 2", "as": "xm"},
        {"calculate": "(datum.r + datum.r2) / 2", "as": "ym"}
      ],
      "layer": [
        {"mark": {"type": "rect", "fill": "white", "stroke": "black", "strokeWidth": 1.8},
         "encoding": {
           "x": {"field": "c", "type": "quantitative", "scale": {"domain": [0, 1, 2, 3, 4, 5, 6], "range": [0, 102, 180, 230, 286.5, 343, 379], "nice": false, "zero": false}, "axis": null},
           "x2": {"field": "c2"},
           "y": {"field": "r", "type": "quantitative", "scale": {"domain": [0, 19], "nice": false, "zero": false, "reverse": true}, "axis": null},
           "y2": {"field": "r2"}
         }},
        {"transform": [{"filter": "datum.k == 'tf'"}],
         "mark": {"type": "text", "align": "left", "dx": 4, "baseline": "middle", "fontWeight": "bold", "fontStyle": "italic", "fontSize": 13, "color": "#000"},
         "encoding": {
           "x": {"field": "c", "type": "quantitative", "scale": {"domain": [0, 1, 2, 3, 4, 5, 6], "range": [0, 102, 180, 230, 286.5, 343, 379], "nice": false, "zero": false}, "axis": null},
           "y": {"field": "ym", "type": "quantitative", "scale": {"domain": [0, 19], "nice": false, "zero": false, "reverse": true}, "axis": null},
           "text": {"field": "t"}
         }},
        {"transform": [{"filter": "datum.k == 'v'"}],
         "mark": {"type": "text", "align": "center", "baseline": "middle", "fontSize": 13, "color": "#000"},
         "encoding": {
           "x": {"field": "xm", "type": "quantitative", "scale": {"domain": [0, 1, 2, 3, 4, 5, 6], "range": [0, 102, 180, 230, 286.5, 343, 379], "nice": false, "zero": false}, "axis": null},
           "y": {"field": "ym", "type": "quantitative", "scale": {"domain": [0, 19], "nice": false, "zero": false, "reverse": true}, "axis": null},
           "text": {"field": "t"}
         }},
        {"transform": [{"filter": "datum.k == 'h'"}],
         "mark": {"type": "text", "align": "center", "baseline": "middle", "fontWeight": "bold", "fontSize": 12.5, "color": "#000"},
         "encoding": {
           "x": {"field": "xm", "type": "quantitative", "scale": {"domain": [0, 1, 2, 3, 4, 5, 6], "range": [0, 102, 180, 230, 286.5, 343, 379], "nice": false, "zero": false}, "axis": null},
           "y": {"field": "ym", "type": "quantitative", "scale": {"domain": [0, 19], "nice": false, "zero": false, "reverse": true}, "axis": null},
           "text": {"field": "t"}
         }},
        {"transform": [{"filter": "datum.k == 'g'"}],
         "mark": {"type": "text", "align": "center", "baseline": "middle", "fontWeight": "bold", "fontStyle": "italic", "fontSize": 13, "color": "#000"},
         "encoding": {
           "x": {"field": "xm", "type": "quantitative", "scale": {"domain": [0, 1, 2, 3, 4, 5, 6], "range": [0, 102, 180, 230, 286.5, 343, 379], "nice": false, "zero": false}, "axis": null},
           "y": {"field": "ym", "type": "quantitative", "scale": {"domain": [0, 19], "nice": false, "zero": false, "reverse": true}, "axis": null},
           "text": {"field": "t"}
         }},
        {"transform": [{"filter": "datum.k == 'h1'"}],
         "mark": {"type": "text", "align": "left", "dx": 14, "dy": -7, "baseline": "middle", "lineBreak": "\n", "lineHeight": 16, "fontWeight": "bold", "fontSize": 13, "color": "#000"},
         "encoding": {
           "x": {"field": "c", "type": "quantitative", "scale": {"domain": [0, 1, 2, 3, 4, 5, 6], "range": [0, 102, 180, 230, 286.5, 343, 379], "nice": false, "zero": false}, "axis": null},
           "y": {"field": "ym", "type": "quantitative", "scale": {"domain": [0, 19], "nice": false, "zero": false, "reverse": true}, "axis": null},
           "text": {"field": "t"}
         }},
        {"transform": [{"filter": "datum.k == 'h2'"}],
         "mark": {"type": "text", "align": "left", "dx": 6, "dy": -7, "baseline": "middle", "lineBreak": "\n", "lineHeight": 16, "fontWeight": "bold", "fontSize": 13, "color": "#000"},
         "encoding": {
           "x": {"field": "c", "type": "quantitative", "scale": {"domain": [0, 1, 2, 3, 4, 5, 6], "range": [0, 102, 180, 230, 286.5, 343, 379], "nice": false, "zero": false}, "axis": null},
           "y": {"field": "ym", "type": "quantitative", "scale": {"domain": [0, 19], "nice": false, "zero": false, "reverse": true}, "axis": null},
           "text": {"field": "t"}
         }}
      ]
    }
  ],
  "spacing": 28
}
